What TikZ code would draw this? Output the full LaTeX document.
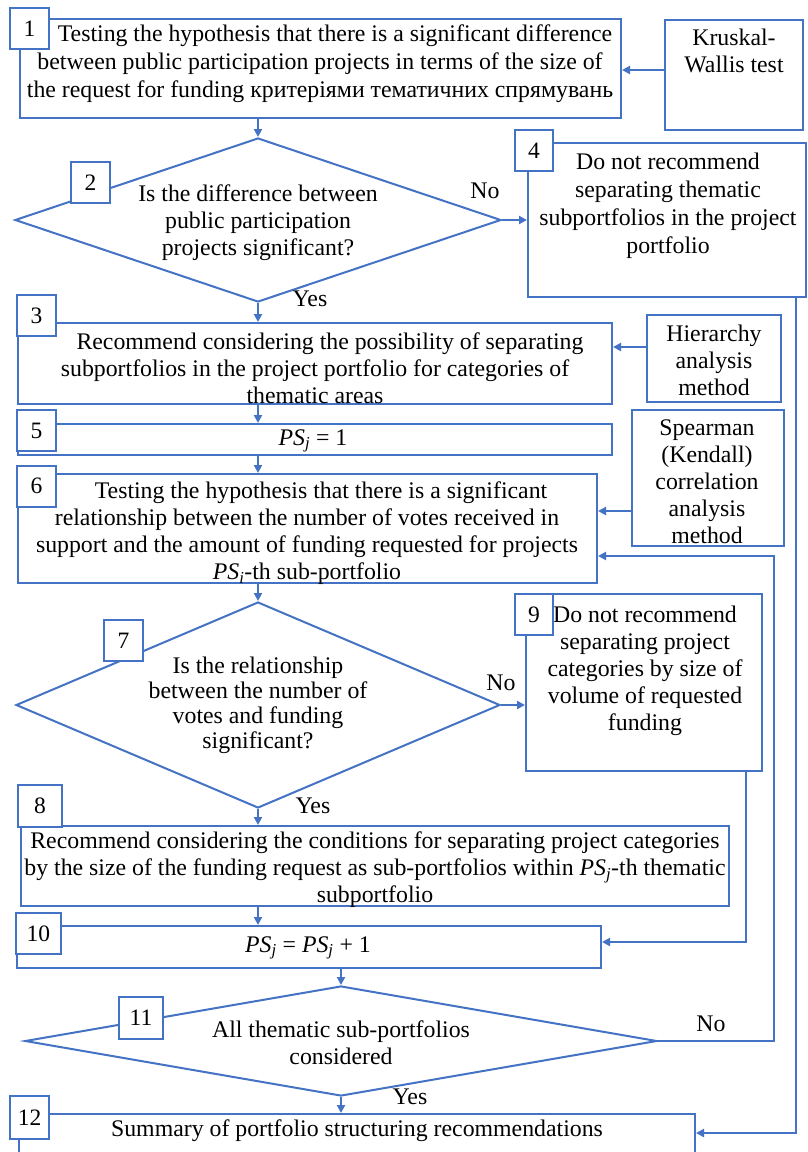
\documentclass[tikz,border=0pt]{standalone}
\usepackage{fontspec}
\setmainfont{Liberation Serif}
\usetikzlibrary{shapes.geometric,arrows.meta}
\definecolor{blu}{HTML}{4472C4}
\newcommand{\PSj}{\textit{PS}\textsubscript{\textit{j}}}
\newcommand{\PSi}{\textit{PS}\textsubscript{\textit{i}}}
\begin{document}
\begin{tikzpicture}[x=1pt,y=-1pt,
  shp/.style={draw=blu, line width=2pt, inner sep=0pt},
  dm/.style={shp, diamond},
  num/.style={shp, rectangle, fill=white, font=\fontsize{23.5}{26}\selectfont},
  txt/.style={align=center, inner sep=0pt, font=\fontsize{23.8}{27}\selectfont},
  arr/.style={draw=blu, line width=2pt, -{Triangle[length=8pt,width=8pt]}},
]
\useasboundingbox (0,0) rectangle (808,1152);
\clip (0,0) rectangle (808,1152);
\fill[white] (0,0) rectangle (808,1152);

% main boxes
\node[shp, minimum width=601pt, minimum height=99pt] (b1) at (320.5,68.5) {};
\node[shp, minimum width=138pt, minimum height=110pt] (kr) at (734,75) {};
\node[dm, minimum width=486pt, minimum height=164pt] (d2) at (258,220) {};
\node[shp, minimum width=278pt, minimum height=154pt] (b4) at (667,220) {};
\node[shp, minimum width=594pt, minimum height=81pt] (b3) at (315,363.5) {};
\node[shp, minimum width=134pt, minimum height=87pt] (hr) at (714,358.5) {};
\node[shp, minimum width=594pt, minimum height=31pt] (b5) at (315,439.5) {};
\node[shp, minimum width=579pt, minimum height=109pt] (b6) at (307.5,528.5) {};
\node[shp, minimum width=152pt, minimum height=136pt] (sp) at (708,478) {};
\node[dm, minimum width=484pt, minimum height=206pt] (d7) at (258,705) {};
\node[shp, minimum width=236pt, minimum height=177pt] (b9) at (644,682.5) {};
\node[shp, minimum width=708pt, minimum height=80pt] (b8) at (375,866) {};
\node[shp, minimum width=584pt, minimum height=42pt] (b10) at (309,947) {};
\node[dm, minimum width=632pt, minimum height=110pt] (d11) at (341,1041) {};
\node[shp, minimum width=676pt, minimum height=66pt] (b12) at (357,1147) {};

% texts
\node[txt, font=\fontsize{23.8}{28}\selectfont] (t1) at (320,64) {\hspace*{30pt}Testing the hypothesis that there is a significant difference\\between public participation projects in terms of the size of\\the request for funding критеріями тематичних спрямувань};
\node[txt] (tk) at (734,51) {Kruskal-\\Wallis test};
\node[txt] (t2) at (258,223) {Is the difference between\\public participation\\projects significant?};
\node[txt, font=\fontsize{23.8}{28}\selectfont] (t4) at (668,206) {Do not recommend\\separating thematic\\subportfolios in the project\\portfolio};
\node[txt] (t3) at (315,368) {\hspace*{30pt}Recommend considering the possibility of separating\\subportfolios in the project portfolio for categories of\\thematic areas};
\node[txt] (th) at (714,360) {Hierarchy\\analysis\\method};
\node[txt] (t5) at (313,441) {\PSj{} = 1};
\node[txt] (tsp) at (707,482) {Spearman\\(Kendall)\\correlation\\analysis\\method};
\node[txt] (t6) at (307,533) {\hspace*{28pt}Testing the hypothesis that there is a significant\\relationship between the number of votes received in\\support and the amount of funding requested for projects\\\PSi-th sub-portfolio};
\node[txt, font=\fontsize{23.8}{25}\selectfont] (t7) at (258,705) {Is the relationship\\between the number of\\votes and funding\\significant?};
\node[txt] (t9) at (645,671) {Do not recommend\\separating project\\categories by size of\\volume of requested\\funding};
\node[txt] (t8) at (375,870) {Recommend considering the conditions for separating project categories\\by the size of the funding request as sub-portfolios within \PSj-th thematic\\subportfolio};
\node[txt] (t10) at (308,948) {\PSj{} = \PSj{} + 1};
\node[txt] (t11) at (341,1043) {All thematic sub-portfolios\\considered};
\node[txt] (t12) at (357,1131) {Summary of portfolio structuring recommendations};

% branch labels
\node[txt] (no2) at (485,191) {No};
\node[txt] (yes2) at (310,299) {Yes};
\node[txt] (no7) at (501,683) {No};
\node[txt] (yes7) at (313,806) {Yes};
\node[txt] (no11) at (711,1024) {No};
\node[txt] (yes11) at (410,1097) {Yes};

% connectors
\draw[arr] ([yshift=5pt]kr.west) -- ([yshift=5pt]kr.west -| b1.east);
\draw[arr] (b1.south -| d2.north) -- (d2.north);
\draw[arr] (d2.east) -- (d2.east -| b4.west);
\draw[arr] (d2.south) -- (d2.south |- b3.north);
\draw[arr] ([yshift=11.5pt]hr.west) -- ([yshift=11.5pt]hr.west -| b3.east);
\draw[arr] (b3.south -| d2.south) -- (b5.north -| d2.south);
\draw[arr] (b5.south -| d2.south) -- (b6.north -| d2.south);
\draw[arr] ([yshift=-33pt]sp.west) -- ([yshift=-33pt]sp.west -| b6.east);
\draw[arr] (b6.south -| d7.north) -- (d7.north);
\draw[arr] (d7.east) -- (d7.east -| b9.west);
\draw[arr] (d7.south) -- (d7.south |- b8.north);
\draw[arr] (b8.south -| d7.south) -- (b10.north -| d7.south);
\coordinate (c9) at (746,942);
\draw[arr] (b9.south -| c9) -- (c9) -- (c9 -| b10.east);
\draw[arr] (b10.south -| d11.north) -- (d11.north);
\coordinate (c11) at (774,556);
\draw[arr] (d11.east) -| (c11) -- (c11 -| b6.east);
\draw[arr] (d11.south) -- (d11.south |- b12.north);
\coordinate (c4) at (796,1133);
\draw[arr] (b4.south -| c4) -- (c4) -- (c4 -| b12.east);

% number labels
\node[num, minimum width=39pt, minimum height=41pt] (n1) at (29.5,28.5) {1};
\node[num, minimum width=39pt, minimum height=41pt] (n2) at (90.5,182.5) {2};
\node[num, minimum width=39pt, minimum height=41pt] (n3) at (36.5,315.5) {3};
\node[num, minimum width=38pt, minimum height=41pt] (n4) at (534,150.5) {4};
\node[num, minimum width=39pt, minimum height=41pt] (n5) at (36.5,430.5) {5};
\node[num, minimum width=39pt, minimum height=41pt] (n6) at (36.5,486) {6};
\node[num, minimum width=39pt, minimum height=41pt] (n7) at (123.5,640.5) {7};
\node[num, minimum width=44pt, minimum height=42pt] (n8) at (40,806) {8};
\node[num, minimum width=38pt, minimum height=41pt] (n9) at (534,614.5) {9};
\node[num, minimum width=45pt, minimum height=41pt] (n10) at (38.5,933.5) {10};
\node[num, minimum width=44pt, minimum height=42pt] (n11) at (141,1018) {11};
\node[num, minimum width=39pt, minimum height=43pt] (n12) at (29.5,1117.5) {12};
\end{tikzpicture}
\end{document}
